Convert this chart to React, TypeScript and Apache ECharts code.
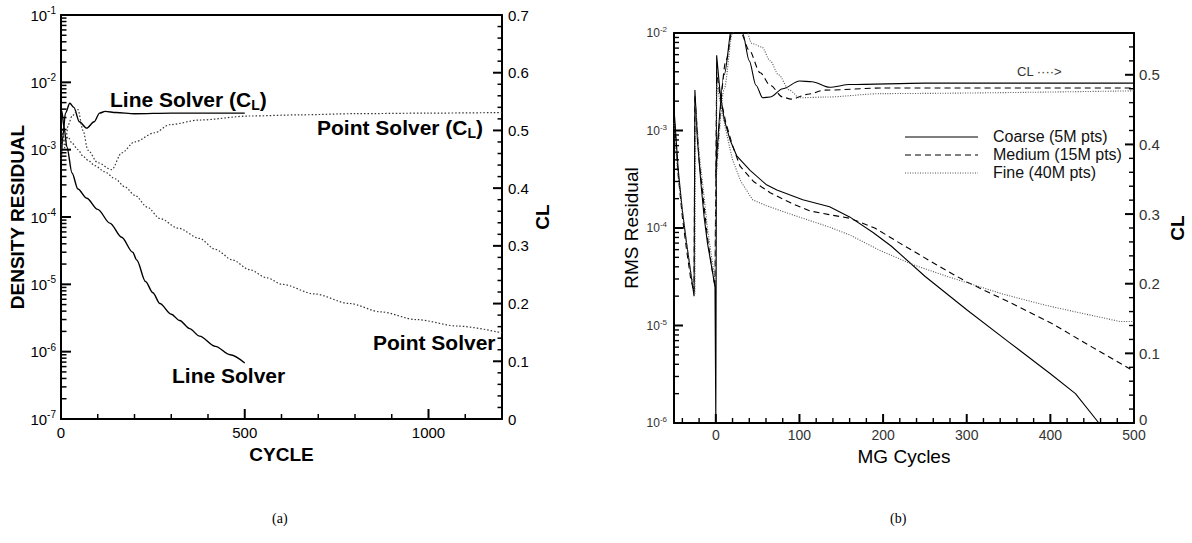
import React, { useEffect, useRef } from "react";
import * as echarts from "echarts";

// ---------- Data: chart (a) ----------
const lineResCycles = [0, 2, 8, 16, 30, 46, 70, 100, 133, 165, 195, 206, 230, 250, 269, 300, 323, 350, 377, 420, 460, 500];
const lineResValues = [2.5e-3, 3.8e-3, 2.2e-3, 1.1e-3, 4.5e-4, 2.6e-4, 1.9e-4, 1.3e-4, 8.1e-5, 5e-5, 3e-5, 2.3e-5, 1.1e-5, 7.5e-6, 5.2e-6, 3.6e-6, 2.9e-6, 2.2e-6, 1.7e-6, 1.2e-6, 9e-7, 6.8e-7];

const pointResCycles = [0, 5, 10, 19, 30, 46, 60, 73, 92, 119, 147, 174, 201, 235, 269, 320, 377, 420, 467, 513, 560, 602, 690, 784, 870, 966, 1080, 1200];
const pointResValues = [1.0e-3, 1.6e-3, 1.3e-3, 1.55e-3, 1.25e-3, 1.0e-3, 8e-4, 7e-4, 5.8e-4, 4.7e-4, 3.7e-4, 2.8e-4, 2.1e-4, 1.4e-4, 9.5e-5, 6.8e-5, 4.8e-5, 3.3e-5, 2.3e-5, 1.65e-5, 1.25e-5, 1.0e-5, 7.2e-6, 5.2e-6, 3.9e-6, 3.0e-6, 2.4e-6, 1.9e-6];

const lineCLCycles = [0, 5, 12, 24, 35, 50, 70, 90, 105, 120, 150, 200, 300, 400, 500];
const lineCLValues = [0.44, 0.49, 0.53, 0.547, 0.54, 0.515, 0.504, 0.515, 0.53, 0.533, 0.531, 0.529, 0.53, 0.53, 0.53];

const pointCLCycles = [0, 5, 10, 20, 30, 46, 60, 73, 100, 138, 165, 200, 255, 296, 377, 513, 649, 800, 1000, 1200];
const pointCLValues = [0.45, 0.5, 0.47, 0.51, 0.525, 0.536, 0.5, 0.466, 0.444, 0.432, 0.461, 0.48, 0.496, 0.51, 0.518, 0.525, 0.527, 0.529, 0.53, 0.531];

// ---------- Data: chart (b) ----------
const coarseResCycles = [-50, -45, -40, -35, -30, -26, -25, -22, -18, -14, -10, -5, -1, 0, 1, 5, 10, 17, 25, 41, 60, 73, 104, 136, 160, 188, 210, 250, 300, 350, 400, 430, 458];
const coarseResValues = [1.7e-3, 4e-4, 1.5e-4, 7e-5, 3.5e-5, 2e-5, 2.6e-3, 8e-4, 3e-4, 1.3e-4, 7e-5, 4e-5, 2.5e-5, 1e-6, 5.9e-3, 2.5e-3, 1.3e-3, 8e-4, 5.5e-4, 3.9e-4, 2.8e-4, 2.45e-4, 1.95e-4, 1.65e-4, 1.3e-4, 9e-5, 6.5e-5, 3.2e-5, 1.45e-5, 6.8e-6, 3.2e-6, 2e-6, 1.0e-6];

const mediumResCycles = [-50, -45, -40, -35, -30, -26, -25, -20, -15, -10, -5, -1, 1, 5, 12, 20, 29, 45, 65, 90, 112, 140, 160, 190, 220, 268, 300, 350, 400, 450, 500];
const mediumResValues = [1.5e-3, 3.5e-4, 1.3e-4, 6e-5, 3e-5, 2.2e-5, 2.3e-3, 5e-4, 2e-4, 8e-5, 4e-5, 2.5e-5, 4e-3, 2.3e-3, 1.2e-3, 7e-4, 4.3e-4, 3e-4, 2.3e-4, 1.8e-4, 1.5e-4, 1.35e-4, 1.26e-4, 1e-4, 7e-5, 4e-5, 2.8e-5, 1.75e-5, 1.07e-5, 6e-6, 3.4e-6];

const fineResCycles = [-50, -46, -40, -35, -30, -25, -24, -20, -15, -10, -5, -1, 1, 5, 12, 20, 30, 44, 60, 88, 136, 160, 196, 236, 276, 343, 396, 435, 483, 500];
const fineResValues = [1.2e-3, 4e-4, 1.5e-4, 7e-5, 3.5e-5, 2.1e-5, 1.8e-3, 6e-4, 2.5e-4, 1e-4, 5e-5, 3e-5, 3e-3, 2e-3, 1e-3, 5e-4, 3e-4, 1.95e-4, 1.7e-4, 1.4e-4, 1.02e-4, 8.5e-5, 5.9e-5, 4.2e-5, 3.2e-5, 2.1e-5, 1.6e-5, 1.35e-5, 1.1e-5, 1.1e-5];

const coarseCLCycles = [0, 10, 20, 26, 32, 40, 48, 56, 65, 80, 100, 115, 136, 160, 250, 500];
const coarseCLValues = [0.36, 0.5, 0.575, 0.585, 0.56, 0.52, 0.485, 0.467, 0.468, 0.48, 0.491, 0.49, 0.482, 0.486, 0.488, 0.488];

const mediumCLCycles = [0, 12, 22, 30, 40, 53, 65, 80, 90, 110, 130, 200, 500];
const mediumCLValues = [0.35, 0.52, 0.58, 0.56, 0.535, 0.503, 0.485, 0.468, 0.465, 0.472, 0.478, 0.481, 0.481];

const fineCLCycles = [0, 10, 20, 28, 35, 43, 55, 65, 75, 88, 100, 130, 200, 500];
const fineCLValues = [0.34, 0.48, 0.56, 0.58, 0.57, 0.545, 0.54, 0.52, 0.5, 0.478, 0.467, 0.468, 0.473, 0.477];

const legendNames = ["Coarse (5M pts)", "Medium (15M pts)", "Fine (40M pts)"];

// ---------- Tick values ----------
const aCycleMajor = [0, 500, 1000];
const aCycleMinor = [100, 200, 300, 400, 600, 700, 800, 900, 1100];
const aLogMajor = [1e-7, 1e-6, 1e-5, 1e-4, 1e-3, 1e-2, 1e-1];
const aLogMinor = [-7, -6, -5, -4, -3, -2].flatMap((e) => [2, 3, 4, 5, 6, 7, 8, 9].map((m) => Number((m * Math.pow(10, e)).toPrecision(2))));
const aCLMajor = [0, 0.1, 0.2, 0.3, 0.4, 0.5, 0.6, 0.7];
const aCLMinor = [0.02, 0.04, 0.06, 0.08, 0.12, 0.14, 0.16, 0.18, 0.22, 0.24, 0.26, 0.28, 0.32, 0.34, 0.36, 0.38, 0.42, 0.44, 0.46, 0.48, 0.52, 0.54, 0.56, 0.58, 0.62, 0.64, 0.66, 0.68];
const bCycleMajor = [0, 100, 200, 300, 400, 500];
const bCycleMinor = [-40, -20, 20, 40, 60, 80, 120, 140, 160, 180, 220, 240, 260, 280, 320, 340, 360, 380, 420, 440, 460, 480];
const bLogMajor = [1e-6, 1e-5, 1e-4, 1e-3, 1e-2];
const bLogMinor = [-6, -5, -4, -3].flatMap((e) => [2, 3, 4, 5, 6, 7, 8, 9].map((m) => Number((m * Math.pow(10, e)).toPrecision(2))));
const bCLMajor = [0, 0.1, 0.2, 0.3, 0.4, 0.5];
const bCLMinor = [0.02, 0.04, 0.06, 0.08, 0.12, 0.14, 0.16, 0.18, 0.22, 0.24, 0.26, 0.28, 0.32, 0.34, 0.36, 0.38, 0.42, 0.44, 0.46, 0.48, 0.52, 0.54];

const FONT = '"Liberation Sans", Arial, Helvetica, sans-serif';
const SERIF = '"Liberation Serif", "Times New Roman", serif';

const zip = (xs: number[], ys: number[]) => xs.map((x, i) => [x, ys[i]]);

const expLabel = (v: number) => {
  const e = Math.round(Math.log10(v));
  return `{b|10}{s|${e}}`;
};
const plain = (v: number) => String(Math.round(v));
const clFmt = (v: number) => (Math.abs(v) < 1e-9 ? "0" : v.toFixed(1));
const clFmtB = (v: number) => (Math.abs(v) < 1e-9 ? "{z|0}" : v.toFixed(1));

export default function App() {
  const ref = useRef<HTMLDivElement>(null);
  useEffect(() => {
    if (!ref.current) return;
    const chart = echarts.init(ref.current, null, { renderer: "svg" });
    const black = "#000";
    const frame = () => ({ show: true, onZero: false, lineStyle: { color: black, width: 2 } });
    const noLabel = () => ({ show: false });
    const noSplit = () => ({ show: false });
    const noTick = () => ({ show: false });

    const legendStyles = [
      { stroke: "#000", lineWidth: 1.1 },
      { stroke: "#000", lineWidth: 1.1, lineDash: [6, 4] },
      { stroke: "#555", lineWidth: 1.1, lineDash: [1, 1.5] },
    ];
    const legendGraphics = legendNames.flatMap((n, i) => [
      { type: "line", silent: true, shape: { x1: 905, y1: 137 + i * 18, x2: 978, y2: 137 + i * 18 }, style: legendStyles[i] },
      { type: "text", silent: true, left: 993, top: 128 + i * 18, style: { text: n, font: `16px ${FONT}`, fill: "#111" } },
    ]);

    const textGraphics: any[] = [
      ...legendGraphics,
      {
        type: "text", left: 110, top: 89,
        style: {
          text: "{m|Line Solver (C}{u|L}{m|)}",
          rich: {
            m: { fontFamily: FONT, fontWeight: "bold", fontSize: 21, fill: "#000" },
            u: { fontFamily: FONT, fontWeight: "bold", fontSize: 14, fill: "#000", padding: [10, 0, 0, 0] },
          },
        },
      },
      {
        type: "text", left: 317, top: 117,
        style: {
          text: "{m|Point Solver (C}{u|L}{m|)}",
          rich: {
            m: { fontFamily: FONT, fontWeight: "bold", fontSize: 21, fill: "#000" },
            u: { fontFamily: FONT, fontWeight: "bold", fontSize: 14, fill: "#000", padding: [10, 0, 0, 0] },
          },
        },
      },
      { type: "text", left: 373, top: 332, style: { text: "Point Solver", font: `bold 21px ${FONT}`, fill: "#000" } },
      { type: "text", left: 172, top: 365, style: { text: "Line Solver", font: `bold 21px ${FONT}`, fill: "#000" } },
      { type: "text", left: 1017, top: 65, style: { text: "CL ····>", font: `13px ${FONT}`, fill: "#333" } },
      { type: "text", left: 272, top: 511, style: { text: "(a)", font: `14px ${SERIF}`, fill: "#000" } },
      { type: "text", left: 890, top: 511, style: { text: "(b)", font: `14px ${SERIF}`, fill: "#000" } },
    ];

    const option: any = {
      animation: false,
      grid: [
        { left: 61, top: 15, width: 441, height: 404 },
        { left: 674, top: 33, width: 460, height: 390 },
      ],
      xAxis: [
        {
          gridIndex: 0, type: "value", position: "bottom", min: 0, max: 1200,
          axisLine: frame(), axisTick: noTick(),
          axisLabel: { show: true, customValues: aCycleMajor, formatter: plain, margin: 6, fontSize: 15, color: black, fontFamily: FONT },
          splitLine: noSplit(),
          name: "CYCLE", nameLocation: "middle", nameGap: 19,
          nameTextStyle: { fontFamily: FONT, fontWeight: "bold", fontSize: 19, color: black },
        },
        {
          gridIndex: 0, type: "value", position: "top", min: 0, max: 1200,
          axisLine: frame(), axisTick: noTick(), axisLabel: noLabel(), splitLine: noSplit(),
        },
        {
          gridIndex: 1, type: "value", position: "bottom", min: -50, max: 500,
          axisLine: frame(), axisTick: noTick(),
          axisLabel: { show: true, customValues: bCycleMajor, formatter: plain, margin: 5, fontSize: 14, color: "#333", fontFamily: FONT },
          splitLine: noSplit(),
          name: "MG Cycles", nameLocation: "middle", nameGap: 18,
          nameTextStyle: { fontFamily: FONT, fontSize: 19, color: black },
        },
        {
          gridIndex: 1, type: "value", position: "top", min: -50, max: 500,
          axisLine: frame(), axisTick: noTick(), axisLabel: noLabel(), splitLine: noSplit(),
        },
      ],
      yAxis: [
        {
          gridIndex: 0, type: "log", logBase: 10, min: 1e-7, max: 1e-1, splitNumber: 6, position: "left",
          axisLine: frame(), axisTick: noTick(),
          axisLabel: {
            show: true, margin: 5, formatter: expLabel, fontFamily: FONT,
            rich: {
              b: { fontSize: 15, color: black, fontFamily: FONT },
              s: { fontSize: 10, color: black, fontFamily: FONT, padding: [0, 0, 9, 0] },
            },
          },
          splitLine: noSplit(),
          name: "DENSITY RESIDUAL", nameLocation: "middle", nameGap: 33, nameRotate: 90,
          nameTextStyle: { fontFamily: FONT, fontWeight: "bold", fontSize: 19, color: black },
        },
        {
          gridIndex: 0, type: "value", min: 0, max: 0.7, interval: 0.1, position: "right",
          axisLine: frame(), axisTick: noTick(),
          axisLabel: { show: true, margin: 6, fontSize: 15, color: black, fontFamily: FONT, formatter: clFmt },
          splitLine: noSplit(),
          name: "CL", nameLocation: "middle", nameGap: 31, nameRotate: 90,
          nameTextStyle: { fontFamily: FONT, fontWeight: "bold", fontSize: 19, color: black },
        },
        {
          gridIndex: 1, type: "log", logBase: 10, min: 1e-6, max: 1e-2, splitNumber: 4, position: "left",
          axisLine: frame(), axisTick: noTick(),
          axisLabel: {
            show: true, margin: 7, formatter: expLabel, fontFamily: FONT,
            rich: {
              b: { fontSize: 12, color: "#333", fontFamily: FONT },
              s: { fontSize: 8, color: "#333", fontFamily: FONT, padding: [0, 0, 7, 0] },
            },
          },
          splitLine: noSplit(),
          name: "RMS Residual", nameLocation: "middle", nameGap: 33, nameRotate: 90,
          nameTextStyle: { fontFamily: FONT, fontSize: 19, color: black },
        },
        {
          gridIndex: 1, type: "value", min: 0, max: 0.56, position: "right",
          axisLine: frame(), axisTick: noTick(),
          axisLabel: {
            show: true, customValues: bCLMajor, margin: 5, fontSize: 15, color: "#333", fontFamily: FONT, formatter: clFmtB,
            rich: { z: { fontSize: 15, color: "#333", fontFamily: FONT, padding: [0, 0, 8, 0] } },
          },
          splitLine: noSplit(),
          name: "CL", nameLocation: "middle", nameGap: 34, nameRotate: 90,
          nameTextStyle: { fontFamily: FONT, fontWeight: "bold", fontSize: 19, color: black },
        },
      ],
      series: [
        // ---- chart (a) curves
        {
          name: "Line Solver", type: "line", xAxisIndex: 0, yAxisIndex: 0, data: zip(lineResCycles, lineResValues),
          symbol: "none", smooth: 0.3, smoothMonotone: "x", lineStyle: { color: "#000", width: 1.4 },
        },
        {
          name: "Point Solver", type: "line", xAxisIndex: 0, yAxisIndex: 0, data: zip(pointResCycles, pointResValues),
          symbol: "none", smooth: 0.3, smoothMonotone: "x", lineStyle: { color: "#333", width: 1.2, type: [1.5, 2] },
        },
        {
          name: "Line Solver (CL)", type: "line", xAxisIndex: 0, yAxisIndex: 1, data: zip(lineCLCycles, lineCLValues),
          symbol: "none", smooth: 0.3, smoothMonotone: "x", lineStyle: { color: "#000", width: 1.4 },
        },
        {
          name: "Point Solver (CL)", type: "line", xAxisIndex: 0, yAxisIndex: 1, data: zip(pointCLCycles, pointCLValues),
          symbol: "none", smooth: 0.3, smoothMonotone: "x", lineStyle: { color: "#333", width: 1.2, type: [1.5, 2] },
        },
        // ---- chart (b) curves
        {
          name: legendNames[0], type: "line", xAxisIndex: 2, yAxisIndex: 2, data: zip(coarseResCycles, coarseResValues),
          symbol: "none", lineStyle: { color: "#000", width: 1.1 },
        },
        {
          name: legendNames[1], type: "line", xAxisIndex: 2, yAxisIndex: 2, data: zip(mediumResCycles, mediumResValues),
          symbol: "none", lineStyle: { color: "#000", width: 1.1, type: [6, 4] },
        },
        {
          name: legendNames[2], type: "line", xAxisIndex: 2, yAxisIndex: 2, data: zip(fineResCycles, fineResValues),
          symbol: "none", lineStyle: { color: "#555", width: 1.1, type: [1, 1.5] },
        },
        {
          name: "Coarse CL", type: "line", xAxisIndex: 2, yAxisIndex: 3, data: zip(coarseCLCycles, coarseCLValues),
          symbol: "none", smooth: 0.3, smoothMonotone: "x", lineStyle: { color: "#000", width: 1.1 },
        },
        {
          name: "Medium CL", type: "line", xAxisIndex: 2, yAxisIndex: 3, data: zip(mediumCLCycles, mediumCLValues),
          symbol: "none", smooth: 0.3, smoothMonotone: "x", lineStyle: { color: "#000", width: 1.1, type: [6, 4] },
        },
        {
          name: "Fine CL", type: "line", xAxisIndex: 2, yAxisIndex: 3, data: zip(fineCLCycles, fineCLValues),
          symbol: "none", smooth: 0.3, smoothMonotone: "x", lineStyle: { color: "#555", width: 1.1, type: [1, 1.5] },
        },
      ],
      graphic: textGraphics,
    };
    chart.setOption(option);

    // ---- tick marks: positions come from the axes' own scales (convertToPixel)
    const num = (r: any) => (Array.isArray(r) ? r[0] : r) as number;
    const X = (i: number, v: number) => num(chart.convertToPixel({ xAxisIndex: i } as any, v));
    const Y = (i: number, v: number) => num(chart.convertToPixel({ yAxisIndex: i } as any, v));
    const ticks: any[] = [];
    const tk = (x1: number, y1: number, x2: number, y2: number, w: number) => {
      if ([x1, y1, x2, y2].every((n) => Number.isFinite(n))) {
        ticks.push({ type: "line", silent: true, z: 100, shape: { x1, y1, x2, y2 }, style: { stroke: "#000", lineWidth: w } });
      }
    };
    const leftTicks = (xi: number, yi: number, xv: number, vals: number[], len: number, w: number) => {
      const x = X(xi, xv);
      vals.forEach((v) => { const y = Y(yi, v); tk(x, y, x + len, y, w); });
    };
    const rightTicks = (xi: number, yi: number, xv: number, vals: number[], len: number, w: number) => {
      const x = X(xi, xv);
      vals.forEach((v) => { const y = Y(yi, v); tk(x, y, x - len, y, w); });
    };
    const bottomTicks = (xi: number, yi: number, yv: number, vals: number[], len: number, w: number) => {
      const y = Y(yi, yv);
      vals.forEach((v) => { const x = X(xi, v); tk(x, y, x, y - len, w); });
    };
    // chart (a)
    leftTicks(0, 0, 0, aLogMajor, 10, 2);
    leftTicks(0, 0, 0, aLogMinor, 5.5, 1.5);
    bottomTicks(0, 0, 1e-7, aCycleMajor, 10, 2);
    bottomTicks(0, 0, 1e-7, aCycleMinor, 5, 1.5);
    rightTicks(0, 1, 1200, aCLMajor, 9, 2);
    rightTicks(0, 1, 1200, aCLMinor, 4.5, 1.5);
    // chart (b)
    leftTicks(2, 2, -50, bLogMajor, 9, 2);
    leftTicks(2, 2, -50, bLogMinor, 5, 1.4);
    bottomTicks(2, 2, 1e-6, bCycleMajor, 9, 2);
    bottomTicks(2, 2, 1e-6, bCycleMinor, 5, 1.4);
    rightTicks(2, 3, 500, bCLMajor, 9, 2);
    rightTicks(2, 3, 500, bCLMinor, 5, 1.4);

    chart.setOption({ graphic: [...textGraphics, ...ticks] });

    return () => chart.dispose();
  }, []);
  return (
    <div
      ref={ref}
      style={{ position: "fixed", left: 0, top: 0, width: 1192, height: 543, background: "#fff" }}
    />
  );
}
